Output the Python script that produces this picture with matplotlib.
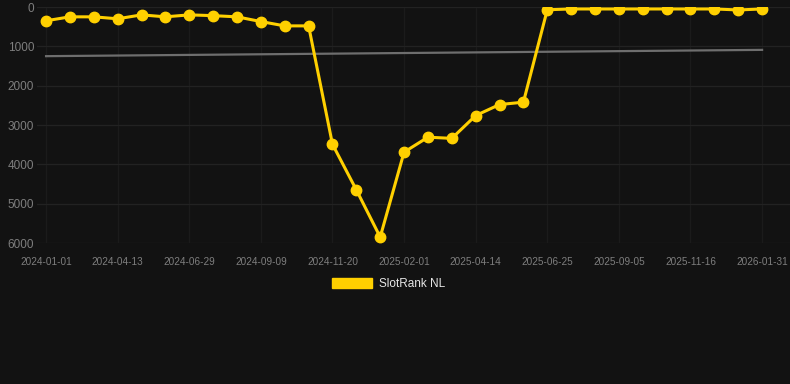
import numpy as np
import matplotlib
matplotlib.use('Agg')
import matplotlib.pyplot as plt
from matplotlib.patches import Patch

# rank values (lower = better), one per point
ranks = [350, 250, 250, 300, 200, 250, 200, 220, 250, 370, 480, 480,
         3490, 4650, 5850, 3690, 3310, 3340, 2760, 2480, 2420,
         70, 50, 50, 50, 50, 50, 50, 50, 75, 50]
tick_labels = ['2024-01-01', '2024-04-13', '2024-06-29', '2024-09-09', '2024-11-20',
               '2025-02-01', '2025-04-14', '2025-06-25', '2025-09-05', '2025-11-16',
               '2026-01-31']
trend_ends = [1250, 1090]
series_name = 'SlotRank NL'

bg = '#121212'
yellow = '#ffd000'

plt.rcParams['font.family'] = ['Liberation Sans', 'DejaVu Sans']

fig = plt.figure(figsize=(7.9, 3.84), dpi=100, facecolor=bg)
ax = fig.add_axes([37 / 790, 1 - 243 / 384, 1 - 37 / 790, 236 / 384])
ax.set_facecolor(bg)

x = np.arange(len(ranks))
ax.plot([x[0], x[-1]], trend_ends, color='#6e6e6e', lw=1.6, zorder=2)
ax.plot(x, ranks, color=yellow, lw=2.2, marker='o', ms=7.5,
        markerfacecolor=yellow, markeredgecolor=yellow, zorder=3)

ax.set_ylim(6000, 0)
ax.set_xlim(-0.38, 31.17)
ax.set_yticks([0, 1000, 2000, 3000, 4000, 5000, 6000])
ax.set_xticks(x[::3])
ax.set_xticklabels(tick_labels)

ax.yaxis.grid(True, color='#222222', lw=0.9)
ax.xaxis.grid(True, color='#1b1b1b', lw=0.9)
ax.set_axisbelow(True)
for s in ax.spines.values():
    s.set_visible(False)
ax.tick_params(axis='both', length=0, colors='#7e7e7e')
ax.tick_params(axis='x', labelsize=7.2, pad=10)
ax.tick_params(axis='y', labelsize=8.5, pad=2)

leg = fig.legend(handles=[Patch(facecolor=yellow, edgecolor=yellow, label=series_name)],
                 loc='center', bbox_to_anchor=(0.492, 1 - 284 / 384), frameon=False,
                 handlelength=3.4, handleheight=0.95, fontsize=8.5, labelcolor='#e6e6e6',
                 handletextpad=0.55)

fig.savefig('out.png', dpi=100, facecolor=bg)
